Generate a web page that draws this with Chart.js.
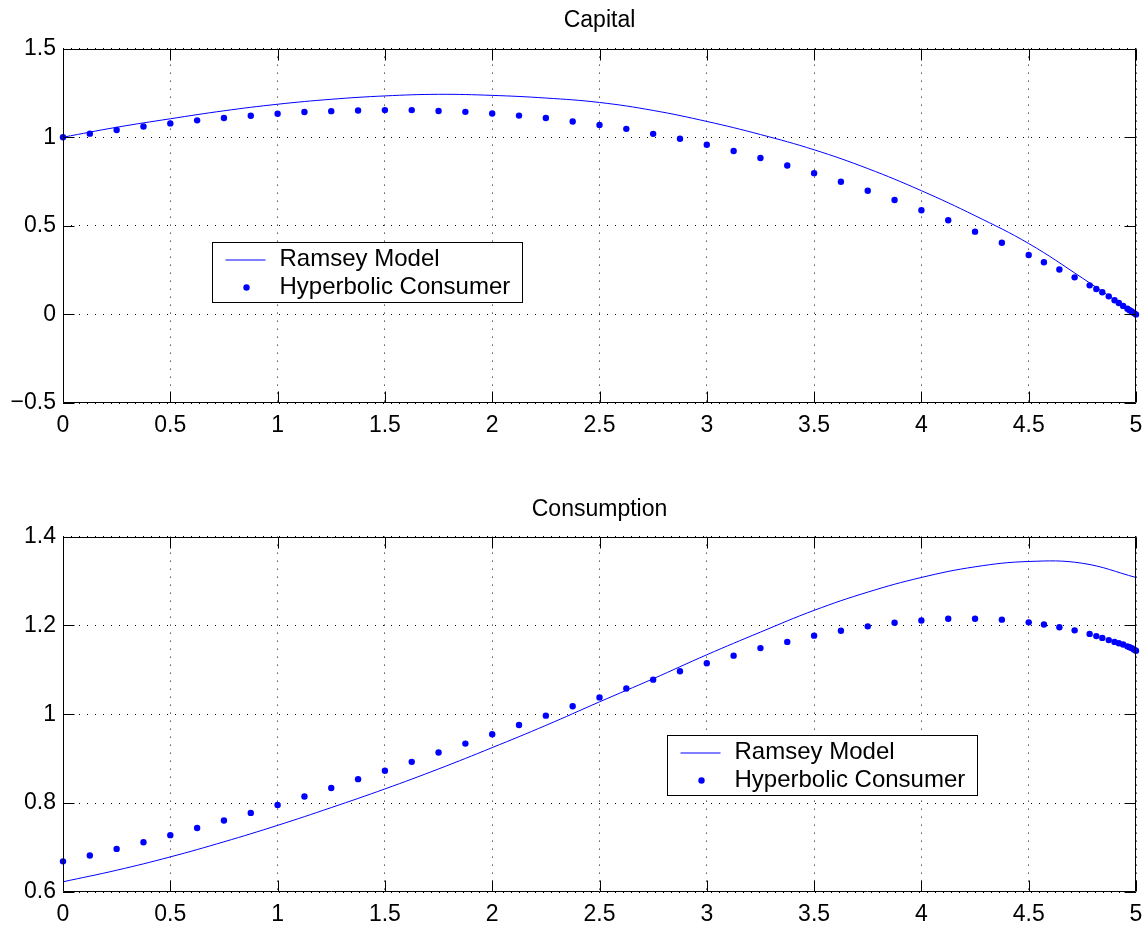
<!DOCTYPE html>
<html>
<head>
<meta charset="utf-8">
<script src="https://cdn.jsdelivr.net/npm/chart.js@4/dist/chart.umd.min.js"></script>
<style>
  body { margin: 0; background: #fff; }
  #page { position: relative; width: 1146px; height: 926px; }
  canvas { position: absolute; left: 0; }
  #capital { top: 0; }
  #consumption { top: 470px; }
</style>
</head>
<body>
<div id="page">
  <canvas id="capital" width="1146" height="470"></canvas>
  <canvas id="consumption" width="1146" height="456"></canvas>
</div>
<script>
// --- data ---
const timeTicks = [0, 0.5, 1, 1.5, 2, 2.5, 3, 3.5, 4, 4.5, 5]
const capitalTicks = [-0.5, 0, 0.5, 1, 1.5]
const consumptionTicks = [0.6, 0.8, 1, 1.2, 1.4]

// Ramsey model (solid line)
const ramseyTime = [0, 0.25, 0.5, 0.75, 1, 1.25, 1.5, 1.75, 2, 2.25, 2.5,
  2.75, 3, 3.25, 3.5, 3.75, 4, 4.25, 4.5, 4.75, 5]
const ramseyCapital = [1.0, 1.056, 1.104, 1.149, 1.186, 1.214, 1.233, 1.242, 1.236, 1.221, 1.196,
  1.151, 1.089, 1.015, 0.929, 0.823, 0.698, 0.557, 0.400, 0.205, 0]
const ramseyConsumption = [0.623, 0.649, 0.679, 0.713, 0.750, 0.790, 0.832, 0.877, 0.925, 0.975, 1.028,
  1.080, 1.134, 1.185, 1.234, 1.275, 1.308, 1.332, 1.344, 1.340, 1.308]

// Hyperbolic consumer (dots)
const hyperTime = [0, 0.125, 0.25, 0.375, 0.5, 0.625, 0.75, 0.875, 1, 1.125, 1.25, 1.375,
  1.5, 1.625, 1.75, 1.875, 2, 2.125, 2.25, 2.375, 2.5, 2.625, 2.75, 2.875,
  3, 3.125, 3.25, 3.375, 3.5, 3.625, 3.75, 3.875, 4, 4.125, 4.25, 4.375, 4.5,
  4.571, 4.643, 4.714, 4.784, 4.815, 4.843, 4.873, 4.9, 4.92, 4.94, 4.96, 4.97, 4.98, 4.99, 5]
const hyperCapital = [1.0, 1.020, 1.041, 1.060, 1.078, 1.095, 1.108, 1.121, 1.132, 1.142, 1.147, 1.151,
  1.153, 1.153, 1.148, 1.143, 1.134, 1.122, 1.108, 1.089, 1.069, 1.047, 1.019, 0.991,
  0.957, 0.922, 0.883, 0.840, 0.797, 0.749, 0.698, 0.646, 0.588, 0.531, 0.467, 0.404, 0.335,
  0.294, 0.253, 0.209, 0.164, 0.143, 0.125, 0.102, 0.080, 0.064, 0.048, 0.032, 0.024, 0.016, 0.008, 0]
const hyperConsumption = [0.669, 0.682, 0.697, 0.712, 0.728, 0.744, 0.761, 0.778, 0.796, 0.815, 0.834, 0.854,
  0.873, 0.893, 0.914, 0.934, 0.955, 0.976, 0.997, 1.018, 1.038, 1.058, 1.078, 1.097,
  1.115, 1.132, 1.149, 1.163, 1.177, 1.188, 1.198, 1.206, 1.211, 1.215, 1.215, 1.213, 1.207,
  1.202, 1.196, 1.189, 1.181, 1.176, 1.172, 1.167, 1.163, 1.160, 1.157, 1.153, 1.151, 1.149, 1.146, 1.143]

const FONT = 'Liberation Sans, Arial, Helvetica, sans-serif'
const BLUE = '#0000ff'

const fmt = v => {
  const s = String(Number(v.toFixed(3)))
  return v < 0 ? '\u2212' + s.slice(1) : s
}
const pairs = (xs, ys) => xs.map((x, i) => ({ x, y: ys[i] }))

// MATLAB-like box, inward ticks and a boxed legend inside the axes
const matlabAxes = {
  id: 'matlabAxes',
  afterDraw(chart, args, opts) {
    const { ctx, chartArea: a, scales: { x, y } } = chart
    const L = Math.round(a.left) + 0.5, R = Math.round(a.right) - 0.5
    const T = Math.round(a.top) + 0.5, B = Math.round(a.bottom) - 0.5
    const len = 11
    ctx.save()
    ctx.strokeStyle = '#000'
    ctx.lineWidth = 1
    ctx.beginPath()
    timeTicks.forEach(v => {
      const px = Math.round(x.getPixelForValue(v)) + 0.5
      ctx.moveTo(px, B); ctx.lineTo(px, B - len)
      ctx.moveTo(px, T); ctx.lineTo(px, T + len)
    })
    opts.yTicks.forEach(v => {
      const py = Math.round(y.getPixelForValue(v)) + 0.5
      ctx.moveTo(L, py); ctx.lineTo(L + len, py)
      ctx.moveTo(R, py); ctx.lineTo(R - len, py)
    })
    ctx.rect(L, T, R - L, B - T)
    ctx.stroke()

    // legend
    const lx = Math.round(a.left + opts.legend.fx * (a.right - a.left)) + 0.5
    const ly = Math.round(a.top + opts.legend.fy * (a.bottom - a.top)) + 0.5
    const w = 310, h = 60
    ctx.fillStyle = '#fff'
    ctx.fillRect(lx, ly, w, h)
    ctx.strokeRect(lx, ly, w, h)
    const [line, dots] = chart.data.datasets
    ctx.font = `24px ${FONT}`
    ctx.textBaseline = 'middle'
    ctx.fillStyle = '#000'
    ctx.fillText(line.label, lx + 67, ly + 17)
    ctx.fillText(dots.label, lx + 67, ly + 45)
    ctx.strokeStyle = BLUE
    ctx.beginPath()
    ctx.moveTo(lx + 13, ly + 17.5); ctx.lineTo(lx + 53, ly + 17.5)
    ctx.stroke()
    ctx.fillStyle = BLUE
    ctx.beginPath()
    ctx.arc(lx + 34, ly + 45, 3.2, 0, Math.PI * 2)
    ctx.fill()
    ctx.restore()
  }
}

function subplot(id, title, yTicks, ramsey, hyper, layout) {
  return new Chart(document.getElementById(id), {
    type: 'line',
    data: {
      datasets: [
        {
          label: 'Ramsey Model',
          data: pairs(ramseyTime, ramsey),
          borderColor: BLUE,
          borderWidth: 1,
          pointRadius: 0,
          tension: 0.4,
          fill: false,
        },
        {
          label: 'Hyperbolic Consumer',
          data: pairs(hyperTime, hyper),
          showLine: false,
          pointRadius: 3.2,
          pointBorderWidth: 0,
          pointBackgroundColor: BLUE,
          borderColor: BLUE,
          clip: false,
        },
      ],
    },
    options: {
      responsive: false,
      animation: false,
      layout: { padding: { right: 10, left: 0, top: 0, bottom: 0 } },
      scales: {
        x: {
          type: 'linear',
          min: 0, max: 5,
          afterBuildTicks: s => { s.ticks = timeTicks.map(v => ({ value: v })) },
          afterFit: s => {
            s.height = layout.xAxisHeight
            s.paddingLeft = 0
            s.paddingRight = 0
          },
          grid: { color: '#000', lineWidth: 1, drawTicks: false },
          border: { display: false, dash: [1, 7] },
          ticks: { font: { family: FONT, size: 23 }, color: '#000', padding: 9, maxRotation: 0, callback: fmt },
        },
        y: {
          type: 'linear',
          min: yTicks[0], max: yTicks[yTicks.length - 1],
          afterBuildTicks: s => { s.ticks = yTicks.map(v => ({ value: v })) },
          afterFit: s => { s.width = 63 },
          grid: { color: '#000', lineWidth: 1, drawTicks: false },
          border: { display: false, dash: [1, 7] },
          ticks: { font: { family: FONT, size: 23 }, color: '#000', padding: 7, callback: fmt },
        },
      },
      plugins: {
        legend: { display: false },
        tooltip: { enabled: false },
        title: {
          display: true,
          text: title,
          fullSize: false,
          color: '#000',
          font: { family: FONT, size: 23, weight: 'normal' },
          padding: layout.titlePadding,
        },
        matlabAxes: { yTicks, legend: layout.legend },
      },
    },
    plugins: [matlabAxes],
  })
}

subplot('capital', 'Capital', capitalTicks, ramseyCapital, hyperCapital, {
  xAxisHeight: 67,
  titlePadding: { top: 7, bottom: 14 },
  legend: { fx: 0.139, fy: 0.545 },
})

subplot('consumption', 'Consumption', consumptionTicks, ramseyConsumption, hyperConsumption, {
  xAxisHeight: 34,
  titlePadding: { top: 26, bottom: 13 },
  legend: { fx: 0.563, fy: 0.559 },
})
</script>
</body>
</html>
